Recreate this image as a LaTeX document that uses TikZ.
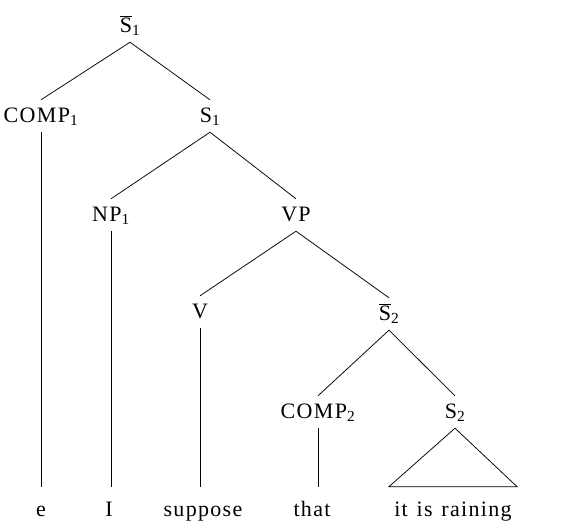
\documentclass[tikz,border=0pt]{standalone}
\usepackage{fontspec}
\setmainfont{Liberation Serif}[LetterSpace=6]
\newcommand\treefont{\fontsize{22}{26}\selectfont}
\newcommand\lsub[1]{\textsubscript{#1}}
\newcommand\barS{$\overline{\mbox{S}}$}
\tikzset{
  lab/.style={anchor=base, inner xsep=0pt, inner ysep=6pt,
              text height=16pt, text depth=4pt, font=\treefont},
  word/.style={anchor=base, inner xsep=0pt, inner ysep=0pt,
               text height=29pt, text depth=4pt, font=\treefont},
  edge/.style={line width=0.75pt, black}
}
\begin{document}
\begin{tikzpicture}[x=1pt, y=-1pt]
  \useasboundingbox (0,0) rectangle (578,528);

  % category labels
  \node[lab] (sb1)   at (130,32)  {\barS\lsub{1}};
  \node[lab] (comp1) at (41,122)  {COMP\lsub{1}};
  \node[lab] (s1)    at (210,122) {S\lsub{1}};
  \node[lab] (np1)   at (111,221) {NP\lsub{1}};
  \node[lab] (vp)    at (296,221) {VP};
  \node[lab] (v)     at (200,318) {V};
  \node[lab] (sb2)   at (389,320) {\barS\lsub{2}};
  \node[lab] (comp2) at (318,418) {COMP\lsub{2}};
  \node[lab] (s2)    at (455,418) {S\lsub{2}};

  % terminal words
  \node[word] (e)    at (41,516)  {e};
  \node[word] (i)    at (109,516) {I};
  \node[word] (sup)  at (203,516) {suppose};
  \node[word] (that) at (312,516) {that};
  \node[word, minimum width=128pt] (rain) at (453,516) {it\hspace{0.4em}is\hspace{0.4em}raining};

  % branches
  \draw[edge] (sb1.south) -- (comp1.north);
  \draw[edge] (sb1.south) -- (s1.north);
  \draw[edge] (s1.south)  -- (np1.north);
  \draw[edge] (s1.south)  -- (vp.north);
  \draw[edge] (vp.south)  -- (v.north);
  \draw[edge] (vp.south)  -- (sb2.north);
  \draw[edge] (sb2.south) -- (comp2.north);
  \draw[edge] (sb2.south) -- (s2.north);

  % unary projections straight down to the words
  \draw[edge] (comp1.south) -- (comp1.south |- e.north);
  \draw[edge] (np1.south)   -- (np1.south |- i.north);
  \draw[edge] (v.south)     -- (v.south |- sup.north);
  \draw[edge] (comp2.south) -- (comp2.south |- that.north);

  % unanalysed constituent
  \draw[edge] (s2.south) -- (rain.north east) -- (rain.north west) -- cycle;
\end{tikzpicture}
\end{document}
